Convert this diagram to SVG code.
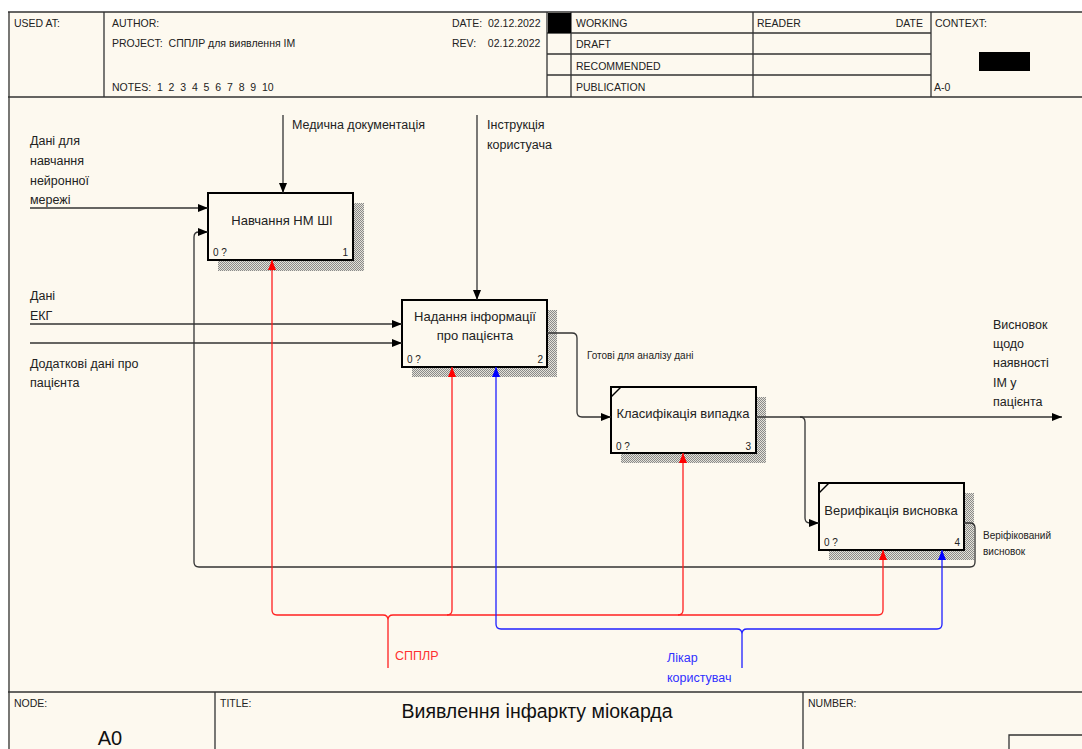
<svg xmlns="http://www.w3.org/2000/svg" width="1082" height="749" viewBox="0 0 1082 749">
<style>
text{font-family:"Liberation Sans",Arial,sans-serif;fill:#222}
.hd{font-size:10.5px}
.lb{font-size:12.5px}
.bx{font-size:13px}
.sm{font-size:10px}
.fr{fill:none;stroke:#333;stroke-width:1.3}
.box{fill:#fdf9ef;stroke:#000;stroke-width:2}
.sh{fill:url(#hatch)}
.k{fill:none;stroke:#333;stroke-width:1.3}
.r{fill:none;stroke:#ff2020;stroke-width:1.3}
.b{fill:none;stroke:#2020ff;stroke-width:1.3}
</style>
<defs>
<pattern id="hatch" width="2" height="2" patternUnits="userSpaceOnUse">
<rect width="2" height="2" fill="#e4e2d8"/>
<rect width="1" height="1" fill="#8a8a8a"/>
<rect x="1" y="1" width="1" height="1" fill="#8a8a8a"/>
</pattern>
<marker id="ak" markerWidth="10" markerHeight="8" refX="10" refY="4" orient="auto" markerUnits="userSpaceOnUse"><path d="M0,0L10,4L0,8z" fill="#000"/></marker>
<marker id="ar" markerWidth="10" markerHeight="8" refX="10" refY="4" orient="auto" markerUnits="userSpaceOnUse"><path d="M0,0L10,4L0,8z" fill="#ff0000"/></marker>
<marker id="ab" markerWidth="10" markerHeight="8" refX="10" refY="4" orient="auto" markerUnits="userSpaceOnUse"><path d="M0,0L10,4L0,8z" fill="#0000ff"/></marker>
</defs>
<rect width="1082" height="749" fill="#ffffff"/>
<rect x="8" y="12" width="1074" height="737" fill="#fdf9ef"/>

<g id="frame">
<path class="fr" d="M9,12V749M8,12H1082M8,97H1082M104,12V97M547,12V97M571,12V97M753,12V97M931,12V97M547,33H931M547,54H931M547,75H931"/>
<path class="fr" d="M8,692H1082M215,692V749M803,692V749M1009,749V735H1082"/>
<rect x="548" y="13" width="23" height="20" fill="#000"/>
<rect x="979" y="52" width="51" height="19" fill="#000"/>
<text class="hd" x="14" y="27">USED AT:</text>
<text class="hd" x="112" y="27">AUTHOR:</text>
<text class="hd" x="112" y="47" xml:space="preserve">PROJECT:  СППЛР для виявлення ІМ</text>
<text class="hd" x="112" y="91" xml:space="preserve">NOTES:  1  2  3  4  5  6  7  8  9  10</text>
<text class="hd" x="452" y="27" xml:space="preserve">DATE:  02.12.2022</text>
<text class="hd" x="452" y="47" xml:space="preserve">REV:    02.12.2022</text>
<text class="hd" x="576" y="27">WORKING</text>
<text class="hd" x="576" y="48">DRAFT</text>
<text class="hd" x="576" y="70">RECOMMENDED</text>
<text class="hd" x="576" y="91">PUBLICATION</text>
<text class="hd" x="757" y="27">READER</text>
<text class="hd" x="923" y="27" text-anchor="end">DATE</text>
<text class="hd" x="935" y="27">CONTEXT:</text>
<text class="hd" x="934" y="91">A-0</text>
<text class="hd" x="14" y="707">NODE:</text>
<text class="hd" x="220" y="707">TITLE:</text>
<text class="hd" x="808" y="707">NUMBER:</text>
<text x="537" y="718" text-anchor="middle" style="font-size:19.5px;fill:#111">Виявлення інфаркту міокарда</text>
<text x="110" y="745" text-anchor="middle" style="font-size:20px;fill:#111">A0</text>
</g>

<g id="node1">
<rect class="sh" x="218" y="203" width="146" height="68"/>
<rect class="box" x="208" y="193" width="145" height="67"/>
<text class="bx" x="282" y="225" text-anchor="middle">Навчання НМ ШІ</text>
<text class="sm" x="213" y="256">0 ?</text>
<text class="sm" x="348" y="256" text-anchor="end">1</text>
</g>

<g id="node2">
<rect class="sh" x="412" y="310" width="145" height="67"/>
<rect class="box" x="402" y="300" width="145" height="67"/>
<text class="bx" x="475" y="321" text-anchor="middle">Надання інформації</text>
<text class="bx" x="475" y="340" text-anchor="middle">про пацієнта</text>
<text class="sm" x="407" y="363">0 ?</text>
<text class="sm" x="543" y="363" text-anchor="end">2</text>
</g>

<g id="node3">
<rect class="sh" x="621" y="397" width="145" height="66"/>
<rect class="box" x="611" y="387" width="145" height="66"/>
<path d="M611,397L621,387" stroke="#000" stroke-width="1.5"/>
<text class="bx" x="683" y="418" text-anchor="middle">Класифікація випадка</text>
<text class="sm" x="616" y="450">0 ?</text>
<text class="sm" x="751" y="450" text-anchor="end">3</text>
</g>

<g id="node4">
<rect class="sh" x="829" y="493" width="145" height="67"/>
<rect class="box" x="819" y="483" width="145" height="67"/>
<path d="M819,493L829,483" stroke="#000" stroke-width="1.5"/>
<text class="bx" x="891" y="515" text-anchor="middle">Верифікація висновка</text>
<text class="sm" x="824" y="546">0 ?</text>
<text class="sm" x="960" y="546" text-anchor="end">4</text>
</g>

<g id="connectors">
<path class="k" d="M283,115V193" marker-end="url(#ak)"/>
<path class="k" d="M477,115V300" marker-end="url(#ak)"/>
<path class="k" d="M30,208H208" marker-end="url(#ak)"/>
<path class="k" d="M30,324H402" marker-end="url(#ak)"/>
<path class="k" d="M30,343H402" marker-end="url(#ak)"/>
<path class="k" d="M547,333H572Q577,333 577,338V412Q577,417 582,417H611" marker-end="url(#ak)"/>
<path class="k" d="M756,417H1062" marker-end="url(#ak)"/>
<path class="k" d="M800,417Q805,417 805,422V518Q805,523 810,523H819" marker-end="url(#ak)"/>
<path class="k" d="M964,523H970Q975,523 975,528V562Q975,567 970,567H199Q194,567 194,562V237Q194,232 199,232H208" marker-end="url(#ak)"/>

<path class="r" d="M277,615Q272,615 272,610V260" marker-end="url(#ar)"/>
<path class="r" d="M447,615Q452,615 452,610V367" marker-end="url(#ar)"/>
<path class="r" d="M678,615Q683,615 683,610V453" marker-end="url(#ar)"/>
<path class="r" d="M878,615Q883,615 883,610V550" marker-end="url(#ar)"/>
<path class="r" d="M277,615H383Q388,615 388,620Q388,615 393,615H878M388,620V668"/>

<path class="b" d="M501,629Q496,629 496,624V367" marker-end="url(#ab)"/>
<path class="b" d="M937,629Q942,629 942,624V550" marker-end="url(#ab)"/>
<path class="b" d="M501,629H737Q742,629 742,634Q742,629 747,629H937M742,634V668"/>

<text class="lb" x="292" y="129">Медична документація</text>
<text class="lb" x="487" y="129">Інструкція</text>
<text class="lb" x="487" y="149">користуача</text>
<text class="lb" x="30" y="145">Дані для</text>
<text class="lb" x="30" y="165">навчання</text>
<text class="lb" x="30" y="185">нейронної</text>
<text class="lb" x="30" y="204">мережі</text>
<text class="lb" x="30" y="300">Дані</text>
<text class="lb" x="30" y="320">ЕКГ</text>
<text class="lb" x="30" y="368">Додаткові дані про</text>
<text class="lb" x="30" y="387">пацієнта</text>
<text class="sm" x="587" y="359">Готові для аналізу дані</text>
<text class="lb" x="993" y="329">Висновок</text>
<text class="lb" x="993" y="348">щодо</text>
<text class="lb" x="993" y="367">наявності</text>
<text class="lb" x="993" y="387">ІМ у</text>
<text class="lb" x="993" y="406">пацієнта</text>
<text class="sm" x="983" y="539">Веріфікований</text>
<text class="sm" x="983" y="555">висновок</text>
<text class="lb" x="395" y="660" style="fill:#ff3030">СППЛР</text>
<text class="lb" x="667" y="662" style="fill:#3030ff">Лікар</text>
<text class="lb" x="667" y="682" style="fill:#3030ff">користувач</text>
</g>
</svg>
